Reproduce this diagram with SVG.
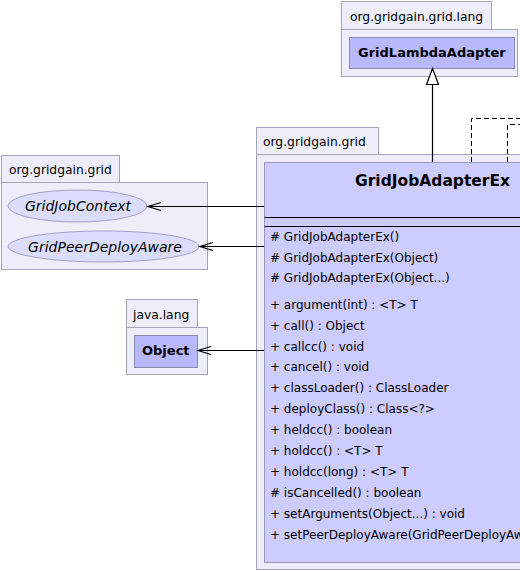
<svg xmlns="http://www.w3.org/2000/svg" width="520" height="571" viewBox="0 0 520 571">
  <style>
    .pkg { fill: #eeeefa; stroke: #a4a4b8; stroke-width: 1; }
    .cls { fill: #ccccff; stroke: #9898b8; stroke-width: 1; }
    .ref { fill: #b8b8fc; stroke: #8a8ab4; stroke-width: 1; }
    .ifc { fill: #dcdcfc; stroke: #a0a0c4; stroke-width: 1; }
    .pkgname { font-family: "DejaVu Sans", Verdana, sans-serif; font-size: 12.3px; fill: #000; }
    .clsname { font-family: "DejaVu Sans", Verdana, sans-serif; font-weight: bold; fill: #000; }
    .ifcname { font-family: "DejaVu Sans", Verdana, sans-serif; font-style: italic; font-size: 14px; fill: #000; text-anchor: middle; }
    .member { font-family: "DejaVu Sans", Verdana, sans-serif; font-size: 12px; fill: #000; }
    .edge { stroke: #000; stroke-width: 1.2; fill: none; }
    .dash { stroke: #000; stroke-width: 1; fill: none; stroke-dasharray: 5,3; }
  </style>

  <!-- package org.gridgain.grid.lang -->
  <g id="pkg-grid-lang">
    <rect class="pkg" x="341.5" y="29.5" width="176" height="47"/>
    <rect class="pkg" x="341.5" y="1.5" width="150" height="28"/>
    <text class="pkgname" x="350" y="20.5">org.gridgain.grid.lang</text>
  </g>
  <g id="GridLambdaAdapter">
    <rect class="ref" x="349.5" y="37.5" width="165" height="31"/>
    <text class="clsname" x="358" y="57" font-size="13">GridLambdaAdapter</text>
  </g>

  <!-- package org.gridgain.grid (interfaces) -->
  <g id="pkg-grid-ifaces">
    <rect class="pkg" x="1.5" y="182.5" width="206" height="87"/>
    <rect class="pkg" x="1.5" y="155.5" width="118" height="27"/>
    <text class="pkgname" x="9" y="173.5">org.gridgain.grid</text>
  </g>
  <g id="GridJobContext">
    <ellipse class="ifc" cx="77.5" cy="206" rx="69.5" ry="16"/>
    <text class="ifcname" x="78" y="211">GridJobContext</text>
  </g>
  <g id="GridPeerDeployAware">
    <ellipse class="ifc" cx="103.5" cy="246.5" rx="95.5" ry="15.5"/>
    <text class="ifcname" x="105" y="251.5">GridPeerDeployAware</text>
  </g>

  <!-- package java.lang -->
  <g id="pkg-java-lang">
    <rect class="pkg" x="126.5" y="327.5" width="81" height="47"/>
    <rect class="pkg" x="126.5" y="299.5" width="71" height="28"/>
    <text class="pkgname" x="133" y="318.5">java.lang</text>
  </g>
  <g id="Object">
    <rect class="ref" x="134.5" y="335.5" width="63" height="32"/>
    <text class="clsname" x="142" y="355" font-size="13">Object</text>
  </g>

  <!-- package org.gridgain.grid (main) -->
  <g id="pkg-grid-main">
    <rect class="pkg" x="256.5" y="154.5" width="360" height="415"/>
    <rect class="pkg" x="256.5" y="127.5" width="122" height="27"/>
    <text class="pkgname" x="263" y="146">org.gridgain.grid</text>
  </g>

  <!-- connectors -->
  <g id="connectors">
    <!-- generalization to GridLambdaAdapter -->
    <line class="edge" x1="432.5" y1="84" x2="432.5" y2="162"/>
    <polygon points="432.5,68.5 426.5,84.5 438.5,84.5" fill="#fff" stroke="#000" stroke-width="1.2"/>
    <!-- dependencies leaving to the right -->
    <polyline class="dash" points="471.5,162 471.5,118.5 520,118.5"/>
    <polyline class="dash" points="507.5,162 507.5,124.5 520,124.5"/>
    <!-- navigable associations -->
    <line class="edge" x1="264" y1="206.5" x2="148" y2="206.5"/>
    <polyline class="edge" points="161,202.5 148,206.5 161,210.5"/>
    <line class="edge" x1="264" y1="246.5" x2="200" y2="246.5"/>
    <polyline class="edge" points="213,242.5 200,246.5 213,250.5"/>
    <line class="edge" x1="264" y1="350.5" x2="198" y2="350.5"/>
    <polyline class="edge" points="211,346.5 198,350.5 211,354.5"/>
  </g>

  <!-- focused class -->
  <g id="GridJobAdapterEx">
    <rect class="cls" x="264.5" y="162.5" width="340" height="400"/>
    <text class="clsname" x="355" y="186" font-size="15.5">GridJobAdapterEx</text>
    <line x1="264.5" y1="217.5" x2="605" y2="217.5" stroke="#000" stroke-width="1"/>
    <line x1="264.5" y1="226.5" x2="605" y2="226.5" stroke="#000" stroke-width="1"/>
    <text class="member" x="270" y="241"># GridJobAdapterEx()</text>
    <text class="member" x="270" y="261.5"># GridJobAdapterEx(Object)</text>
    <text class="member" x="270" y="282"># GridJobAdapterEx(Object...)</text>
    <text class="member" x="270" y="308.5">+ argument(int) : &lt;T&gt; T</text>
    <text class="member" x="270" y="330">+ call() : Object</text>
    <text class="member" x="270" y="351">+ callcc() : void</text>
    <text class="member" x="270" y="371">+ cancel() : void</text>
    <text class="member" x="270" y="391.5">+ classLoader() : ClassLoader</text>
    <text class="member" x="270" y="412.5">+ deployClass() : Class&lt;?&gt;</text>
    <text class="member" x="270" y="433.5">+ heldcc() : boolean</text>
    <text class="member" x="270" y="455">+ holdcc() : &lt;T&gt; T</text>
    <text class="member" x="270" y="475.5">+ holdcc(long) : &lt;T&gt; T</text>
    <text class="member" x="270" y="496.5"># isCancelled() : boolean</text>
    <text class="member" x="270" y="517.5">+ setArguments(Object...) : void</text>
    <text class="member" x="270" y="538.5">+ setPeerDeployAware(GridPeerDeployAware) : void</text>
  </g>
</svg>
